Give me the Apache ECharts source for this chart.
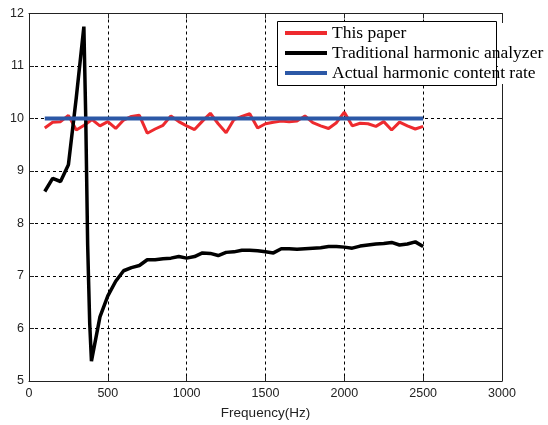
<!DOCTYPE html>
<html>
<head>
<meta charset="utf-8">
<script src="https://cdn.jsdelivr.net/npm/echarts@6/dist/echarts.min.js"></script>
<style>
html,body{margin:0;padding:0;background:#fff;}
#chart{width:548px;height:425px;}
</style>
</head>
<body>
<div id="chart"></div>
<script>
var freq = [100,150,200,250,300,350,400,450,500,550,600,650,700,750,800,850,900,950,1000,1050,1100,1150,1200,1250,1300,1350,1400,1450,1500,1550,1600,1650,1700,1750,1800,1850,1900,1950,2000,2050,2100,2150,2200,2250,2300,2350,2400,2450,2500];
var thisPaper = [9.82,9.93,9.94,10.06,9.78,9.87,9.98,9.86,9.94,9.81,9.97,10.04,10.06,9.72,9.80,9.87,10.05,9.94,9.86,9.79,9.95,10.10,9.90,9.73,9.98,10.04,10.09,9.82,9.90,9.93,9.95,9.94,9.95,10.05,9.92,9.86,9.81,9.92,10.12,9.86,9.91,9.90,9.85,9.94,9.78,9.93,9.86,9.80,9.85];
var tradFreq = [100,150,200,250,300,348,360,372,385,396,450,500,550,600,650,700,750,800,850,900,950,1000,1050,1100,1150,1200,1250,1300,1350,1400,1450,1500,1550,1600,1650,1700,1750,1800,1850,1900,1950,2000,2050,2100,2150,2200,2250,2300,2350,2400,2450,2500];
var traditional = [8.61,8.86,8.80,9.12,10.40,11.75,10.00,7.60,6.10,5.38,6.22,6.62,6.90,7.10,7.16,7.20,7.31,7.31,7.33,7.34,7.37,7.34,7.37,7.44,7.43,7.39,7.45,7.46,7.49,7.49,7.48,7.46,7.44,7.52,7.52,7.51,7.52,7.53,7.54,7.56,7.56,7.55,7.53,7.57,7.59,7.61,7.62,7.64,7.59,7.61,7.65,7.56];
var actual = [10,10,10,10,10,10,10,10,10,10,10,10,10,10,10,10,10,10,10,10,10,10,10,10,10,10,10,10,10,10,10,10,10,10,10,10,10,10,10,10,10,10,10,10,10,10,10,10,10];
var xTicks = [0,500,1000,1500,2000,2500,3000];
var yTicks = [5,6,7,8,9,10,11,12];
var seriesNames = ['This paper','Traditional harmonic analyzer','Actual harmonic content rate'];
var xName = 'Frequency(Hz)';

function pairs(xs, ys){ return xs.map(function(f,i){ return [f, ys[i]]; }); }

var chart = echarts.init(document.getElementById('chart'), null, {renderer:'canvas'});
var axisCol = '#222';
var lblFont = '"Liberation Sans", Arial, sans-serif';
var serifFont = '"Liberation Serif", "Times New Roman", serif';
var xMin = xTicks[0], xMax = xTicks[xTicks.length-1], xInt = xTicks[1]-xTicks[0];
var yMin = yTicks[0], yMax = yTicks[yTicks.length-1], yInt = yTicks[1]-yTicks[0];
function plain(v){ return String(v); }

chart.setOption({
  animation:false,
  backgroundColor:'#fff',
  grid:{left:29, right:46, top:13.5, bottom:42, show:false},
  xAxis:[{
    type:'value', min:xMin, max:xMax, interval:xInt,
    axisLine:{show:true, onZero:false, lineStyle:{color:axisCol, width:1}},
    axisTick:{show:true, inside:true, length:5, lineStyle:{color:axisCol}},
    axisLabel:{fontSize:12.5, color:'#222', margin:6, fontFamily:lblFont, formatter:plain},
    splitLine:{show:true, lineStyle:{type:[3,3], color:'#000', width:1}},
    name:xName, nameLocation:'middle', nameGap:25,
    nameTextStyle:{fontSize:13.5, color:'#222', fontFamily:lblFont}
  },{
    type:'value', position:'top', min:xMin, max:xMax, interval:xInt,
    axisLine:{show:true, onZero:false, lineStyle:{color:axisCol, width:1}},
    axisTick:{show:true, inside:true, length:5, lineStyle:{color:axisCol}},
    axisLabel:{show:false}, splitLine:{show:false}
  }],
  yAxis:[{
    type:'value', min:yMin, max:yMax, interval:yInt,
    axisLine:{show:true, onZero:false, lineStyle:{color:axisCol, width:1}},
    axisTick:{show:true, inside:true, length:5, lineStyle:{color:axisCol}},
    axisLabel:{fontSize:12.5, color:'#222', margin:5, fontFamily:lblFont, formatter:plain},
    splitLine:{show:true, lineStyle:{type:[3,3], color:'#000', width:1}}
  },{
    type:'value', position:'right', min:yMin, max:yMax, interval:yInt,
    axisLine:{show:true, onZero:false, lineStyle:{color:axisCol, width:1}},
    axisTick:{show:true, inside:true, length:5, lineStyle:{color:axisCol}},
    axisLabel:{show:false}, splitLine:{show:false}
  }],
  legend:{
    show:true, orient:'vertical', left:285, top:23, padding:0, itemGap:0,
    itemWidth:42, itemHeight:4, icon:'rect', z:20,
    textStyle:{fontSize:17.5, lineHeight:20, color:'#000', fontFamily:serifFont},
    data:seriesNames
  },
  graphic:[
    {type:'rect', z:10, shape:{x:277.5, y:21.5, width:219, height:64}, style:{fill:'#fff', stroke:'#000', lineWidth:1}},
    {type:'rect', z:10, shape:{x:498, y:23, width:50, height:61}, style:{fill:'#fff', stroke:null}}
  ],
  series:[
    {name:seriesNames[0], type:'line', data:pairs(freq, thisPaper), showSymbol:false, symbol:'none', color:'#ee2a2e', lineStyle:{width:3, color:'#ee2a2e'}, z:2},
    {name:seriesNames[1], type:'line', data:pairs(tradFreq, traditional), showSymbol:false, symbol:'none', color:'#000', lineStyle:{width:3.5, color:'#000'}, z:3},
    {name:seriesNames[2], type:'line', data:pairs(freq, actual), showSymbol:false, symbol:'none', color:'#2c58a6', lineStyle:{width:4, color:'#2c58a6'}, z:4}
  ]
});
</script>
</body>
</html>
